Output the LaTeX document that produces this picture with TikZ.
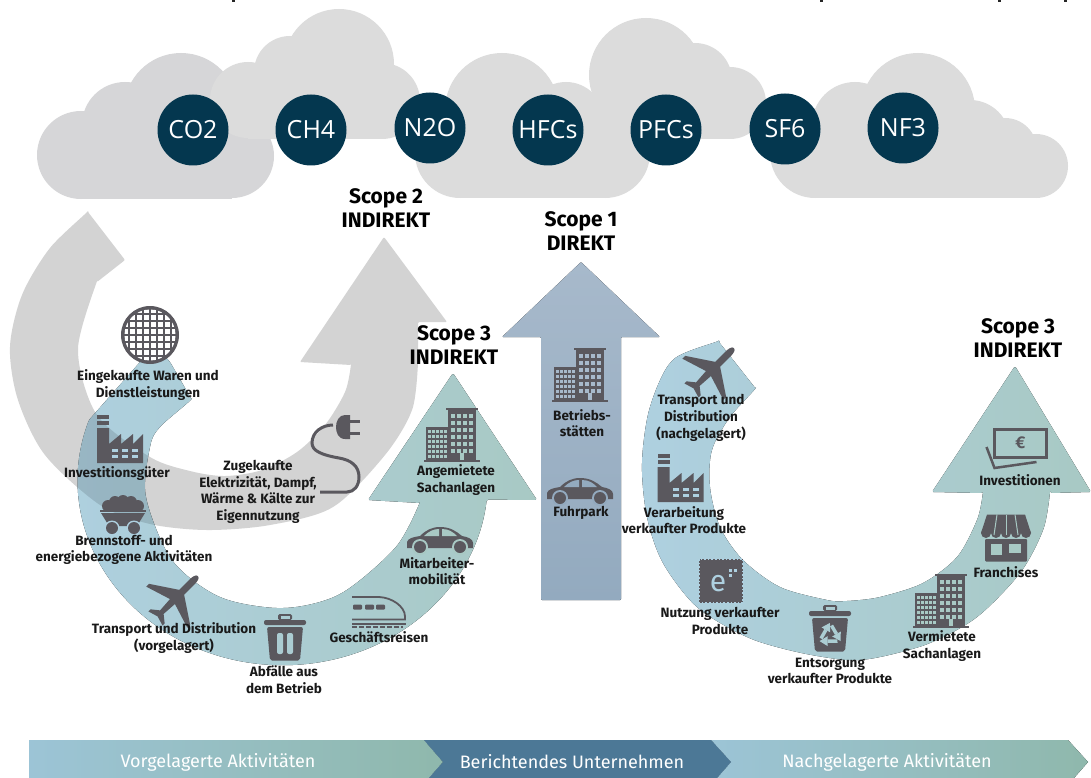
\documentclass[tikz,border=0pt]{standalone}
\usepackage{fontspec}
\setmainfont{Fira Sans}
\newfontfamily\gasfont{Open Sans}
\definecolor{cloudgrey}{HTML}{DCDCDC}
\definecolor{cloudgreyb}{HTML}{D6D6D8}
\definecolor{gasblue}{HTML}{04374F}
\definecolor{arcgrey}{HTML}{D3D3D3}
\definecolor{arcblue}{HTML}{AED0E0}
\definecolor{arcteal}{HTML}{A8C9C4}
\colorlet{arcmid}{arcblue!50!arcteal}
\definecolor{barblue}{HTML}{9CC4D6}
\definecolor{barteal}{HTML}{8FB8AC}
\definecolor{barmid}{HTML}{4C7896}
\definecolor{scopetop}{HTML}{A7B9CB}
\definecolor{scopebot}{HTML}{93AABF}
\definecolor{icondark}{HTML}{5A585E}
\newcommand{\greypath}{plot[smooth] coordinates {(88,212) (50,248) (22,295) (10,347) (18,400) (45,455) (100,505) (150,524) (207,530) (270,525) (333,507) (385,455) (412,410) (418,363)}
    -- (418,322) -- (447,322) -- (384,237) -- (300,362) -- plot[smooth] coordinates {(351,365) (345,392) (325,425) (297,452) (262,470) (225,476) (190,471) (150,457) (97,415) (78,350) (97,282)}
    -- (125,260) -- cycle}
\newcommand{\bluepath}{(155,345) -- (89,420) arc[start angle=199,end angle=6,x radius=205,y radius=185]
    -- (537,500) -- (453,373) -- (368,500) -- plot[smooth] coordinates {(420,503) (395,548) (340,594) (283,608) (220,597) (172,560) (146,497) (150,447) (160,427) (192,400)}
    -- (170,362) -- cycle}
\tikzset{
  gascircle/.style={circle,fill=gasblue,text=white,minimum size=71pt,inner sep=0pt,font=\gasfont\fontsize{25}{25}\selectfont},
  scopetext/.style={align=center,font=\bfseries\fontsize{21}{24}\selectfont},
  itemtext/.style={align=center,text=black!90,font=\bfseries\fontsize{13.5}{16.7}\selectfont},
  bartext/.style={text=white,font=\fontsize{18}{18}\selectfont},
  arcfill/.style={left color=arcblue,right color=arcteal,rounded corners=1.5pt},
  barfill/.style={left color=barblue,right color=barteal},
  iconhole/.style={fill=white},
  buildingicon/.pic={
    \fill[icondark] (-6,-27) rectangle (26,-25);
    \fill[icondark] (-4,-25) rectangle (24,25);
    \fill[icondark] (-26,-8) rectangle (-4,25);
    \fill[icondark] (-28,25) rectangle (28,27);
    \foreach \i in {0,...,3} \foreach \j in {0,...,5}
      \path[iconhole] ({-1+\i*6},{-21+\j*7}) rectangle +(4,4);
    \foreach \i in {0,...,4} \foreach \j in {0,...,5}
      \path[iconhole] ({-24+\i*4},{-5+\j*5}) rectangle +(2.6,3);
    \path[iconhole] (8,18) rectangle (12,25);
  },
  factoryicon/.pic={
    \fill[icondark] (-23,-24) rectangle (-11,-20);
    \fill[icondark] (-23,-18) rectangle (-11,-14);
    \fill[icondark] (-23,-11) -- (-11,-11) -- (-11,5) -- (1,-5) -- (1,5) -- (13,-5) -- (13,5) -- (23,-5) -- (23,24) -- (-23,24) -- cycle;
    \foreach \i in {-5,5,15} \foreach \j in {10,16}
      \path[iconhole] ({\i-3},\j) rectangle +(6,2.5);
  },
  caricon/.pic={
    \fill[icondark] (-33,8) -- (-33,2) .. controls (-32,-2) and (-26,-3) .. (-20,-4) .. controls (-14,-10) and (-8,-13) .. (0,-13) .. controls (10,-13) and (16,-9) .. (22,-4) .. controls (28,-3) and (33,-1) .. (33,3) -- (33,8) -- cycle;
    \path[iconhole] (-16,-4) .. controls (-11,-9) and (-6,-11) .. (-1,-11) -- (-1,-4) -- cycle;
    \path[iconhole] (2,-11) .. controls (9,-11) and (13,-8) .. (17,-4) -- (2,-4) -- cycle;
    \foreach \x in {-20,20}{
      \path[iconhole] (\x,7) circle (8);
      \fill[icondark] (\x,7) circle (6);
    }
  },
  planeicon/.pic={
    \fill[icondark] (0,-31) .. controls (3,-31) and (3.5,-26) .. (3.5,-22) -- (3.5,-8) -- (29,9) -- (29,13) -- (3.5,5) -- (2.5,20) -- (10,26) -- (10,29) -- (0,26) -- (-10,29) -- (-10,26) -- (-2.5,20) -- (-3.5,5) -- (-29,13) -- (-29,9) -- (-3.5,-8) -- (-3.5,-22) .. controls (-3.5,-26) and (-3,-31) .. (0,-31) -- cycle;
  },
  binbody/.pic={
    \fill[icondark,rounded corners=1.5] (-7,-17) -- (-7,-23) -- (7,-23) -- (7,-17) -- cycle;
    \path[iconhole] (-4.5,-21) rectangle (4.5,-18);
    \fill[icondark,rounded corners=2] (-21,-17) rectangle (21,-12);
    \fill[icondark,rounded corners=2] (-18,-10) -- (18,-10) -- (15,23.5) -- (-15,23.5) -- cycle;
  },
  trashicon/.pic={
    \pic {binbody};
    \path[iconhole,rounded corners=2] (-8,-4) rectangle (-2,17);
    \path[iconhole,rounded corners=2] (2,-4) rectangle (8,17);
  },
  recycleicon/.pic={
    \pic {binbody};
    \foreach \a in {0,120,240}{
      \begin{scope}[shift={(0,7)},rotate=\a]
        \draw[arcmid,line width=3.5] (1.5,-9.5) -- (6.5,-1);
        \path[iconhole] (10.8,-3.5) -- (2.2,1.5) -- (10.5,6) -- cycle;
      \end{scope}
    }
  },
  wafericon/.pic={
    \fill[icondark] (0,0) circle (29);
    \begin{scope}
      \clip (0,0) circle (25.5);
      \foreach \i in {-4,...,3} \foreach \j in {-4,...,3}
        \fill[white] ({\i*7+1},{\j*7+1}) rectangle +(5,5);
    \end{scope}
  },
  carticon/.pic={
    \foreach \x/\y/\r in {-15/-9/6,-8/-13/6,0/-14/6,8/-13/6,15/-9/6}
      \fill[icondark] (\x,\y) circle (\r);
    \fill[icondark] (-19,-10) rectangle (19,-5);
    \fill[icondark] (-23,-5) -- (23,-5) -- (23,-3) -- (-23,-3) -- cycle;
    \fill[icondark] (-22,-2) -- (22,-2) -- (14,11) -- (-14,11) -- cycle;
    \foreach \x in {-11,11}{
      \path[iconhole] (\x,13) circle (7.5);
      \fill[icondark] (\x,13) circle (6);
    }
  },
  plugicon/.pic={
    \draw[icondark,line width=3] (-3,-29) .. controls (-14,-29) and (-24,-22) .. (-24,-11) .. controls (-24,-3) and (-14,1) .. (3,4) .. controls (15,6) and (23,12) .. (23,23) .. controls (23,32) and (18,38) .. (11,38) -- (-16,38);
    \fill[icondark] (14,-39) -- (14,-15) -- (9,-15) .. controls (2,-15) and (0,-22) .. (0,-27) .. controls (0,-33) and (3,-39) .. (9,-39) -- cycle;
    \draw[icondark,line width=3] (14,-33) -- (24,-33);
    \draw[icondark,line width=3] (14,-21) -- (24,-21);
  },
  trainicon/.pic={
    \draw[icondark,line width=1.8] (-27,-14.5) -- (0,-14.5) .. controls (13,-14) and (26,-5) .. (26,5) -- (26,8) -- (-27,8);
    \foreach \x in {-26,-14,-3}
      \fill[icondark,rounded corners=1] (\x,-7) rectangle +(9,5);
    \fill[icondark] (-27,11) rectangle (27,13);
    \draw[icondark,line width=2,dash pattern=on 5pt off 2pt] (-27,15) -- (24,15);
  },
  storeicon/.pic={
    \fill[icondark] (-19,-23.5) -- (19,-23.5) -- (25,-5) -- (-25,-5) -- cycle;
    \foreach \x in {-20,-10,0,10,20}
      \fill[icondark] (\x,-5) circle (5);
    \draw[arcteal,line width=1] (-9,-23.5) -- (-12,-3);
    \draw[arcteal,line width=1] (0,-23.5) -- (0,-3);
    \draw[arcteal,line width=1] (9,-23.5) -- (12,-3);
    \fill[icondark,rounded corners=1] (-21,1) rectangle (21,23.5);
    \path[iconhole] (-15,6) rectangle (-4,17);
    \path[iconhole] (3,6) rectangle (15,15);
  },
  notesicon/.pic={
    \draw[icondark,line width=3] (-22,-20) rectangle (29.5,8);
    \draw[icondark,line width=2.5] (-30,-2) -- (-22,19) -- (20,13);
    \node[text=icondark,font=\bfseries\fontsize{17}{17}\selectfont] (euro) at (4,-6) {€};
  },
  stampicon/.pic={
    \fill[icondark] (-22,-22) rectangle (22,22);
    \draw[arcblue,line width=1.5,dash pattern=on 1.6pt off 2pt] (-22,-22) rectangle (22,22);
    \node[text=arcblue,font=\rmfamily\fontsize{30}{30}\selectfont] (echar) at (-3,3) {e};
    \foreach \x/\y in {8/-12,13/-12,8/-7} \fill[arcblue] (\x,\y) rectangle +(2.5,2.5);
  }
}
\begin{document}
\begin{tikzpicture}[x=1pt,y=-1pt]
  \useasboundingbox (0,0) rectangle (1091,778);
  %rest der titelzeile
  \foreach \x in {232,820,998,1064}
    \fill[black!85] (\x,0) rectangle +(3,2.5);

  %wolken
  \foreach \x/\y/\r in {81/155/44,125/125/43,181/110/57,232/156/42}
    \fill[cloudgreyb] (\x,\y) circle (\r);
  \fill[cloudgreyb] (81,120) rectangle (232,199);
  \foreach \x/\y/\r in {248/100/38,290/72/36,339/64/55,382/101/38}
    \fill[cloudgrey] (\x,\y) circle (\r);
  \fill[cloudgrey] (248,80) rectangle (382,139);
  \foreach \x/\y/\r in {460/153/45,502/110/57,566/120/38,605/153/45,646/75/57,695/80/37,730/103/36}
    \fill[cloudgrey] (\x,\y) circle (\r);
  \fill[cloudgrey] (460,110) rectangle (605,198);
  \fill[cloudgrey] (620,90) rectangle (730,139);
  \foreach \x/\y/\r in {815/153/45,855/125/43,918/110/57,970/140/40,1005/150/32,1036/166/32}
    \fill[cloudgrey] (\x,\y) circle (\r);
  \fill[cloudgrey] (815,135) rectangle (1005,198);
  \fill[cloudgrey] (1005,166) rectangle (1036,198);

  %gase
  \node[gascircle] (co2) at (193,130) {CO2};
  \node[gascircle] (ch4) at (311,130) {CH4};
  \node[gascircle] (n2o) at (430,128) {N2O};
  \node[gascircle] (hfcs) at (548,130) {HFCs};
  \node[gascircle] (pfcs) at (666,130) {PFCs};
  \node[gascircle] (sf6) at (785,129) {SF6};
  \node[gascircle] (nf3) at (903,128) {NF3};

  %scope 2 pfeil
  \fill[arcgrey,rounded corners=1pt] \greypath;

  %scope 3 vorgelagert
  \fill[arcfill] \bluepath;
  \begin{scope}
    \clip \greypath;
    \fill[black,opacity=.12] \bluepath;
  \end{scope}

  %scope 3 nachgelagert
  \fill[arcfill] plot[smooth] coordinates {(719,342) (673,360) (650,407) (642,463) (647,517) (663,563) (697,607) (747,637) (797,652) (847,660) (880,657) (930,643) (977,617) (1020,573) (1043,530) (1050,493)}
    -- (1091,492) -- (1015,366) -- (932,492) -- plot[smooth] coordinates {(983,493) (977,520) (957,557) (923,583) (880,597) (847,601) (827,600) (780,587) (743,560) (720,527) (710,487) (712,450) (730,417) (756,389)}
    -- cycle;

  %scope 1 pfeil
  \fill[top color=scopetop,bottom color=scopebot,rounded corners=1pt] (581,262) -- (660,337) -- (621,337) -- (621,600) -- (541,600) -- (541,337) -- (502,337) -- cycle;

  %balken unten
  \fill[barfill] (29,740) -- (424,740) -- (443,762) -- (429,778) -- (29,778) -- cycle;
  \fill[barfill] (711,740) -- (1068,740) -- (1088,762) -- (1074,778) -- (717,778) -- (731,762) -- cycle;
  \fill[barmid] (424,740) -- (711,740) -- (731,762) -- (717,778) -- (429,778) -- (443,762) -- cycle;
  \node[bartext] (vorgelagert) at (218,762) {Vorgelagerte Aktivitäten};
  \node[bartext] (berichtend) at (572,762) {Berichtendes Unternehmen};
  \node[bartext] (nachgelagert) at (887,762) {Nachgelagerte Aktivitäten};

  %ueberschriften
  \node[scopetext] (scopezwei) at (386,208) {Scope 2\\INDIREKT};
  \node[scopetext] (scopeeins) at (581,231) {Scope 1\\DIREKT};
  \node[scopetext] (scopedreil) at (454,345) {Scope 3\\INDIREKT};
  \node[scopetext] (scopedreir) at (1018,338) {Scope 3\\INDIREKT};

  %icons links
  \pic at (150,335) {wafericon};
  \pic[iconhole/.style={fill=arcblue}] at (120,439) {factoryicon};
  \pic[iconhole/.style={fill=arcblue}] at (123,515) {carticon};
  \pic[rotate=-45] at (176,598) {planeicon};
  \pic[iconhole/.style={fill=arcmid}] at (285,637) {trashicon};
  \pic at (379,611.5) {trainicon};
  \pic[iconhole/.style={fill=arcteal}] at (440,540) {caricon};
  \pic[iconhole/.style={fill=arcteal}] at (452,435) {buildingicon};
  \pic at (336,454) {plugicon};

  %icons mitte und rechts
  \pic[iconhole/.style={fill=scopetop}] at (580,375) {buildingicon};
  \pic[iconhole/.style={fill=scopebot}] at (580,491) {caricon};
  \pic[rotate=-45] at (712,370) {planeicon};
  \pic[iconhole/.style={fill=arcblue}] at (680.5,478) {factoryicon};
  \pic at (721,581) {stampicon};
  \pic[iconhole/.style={fill=arcmid}] at (830,628) {recycleicon};
  \pic[iconhole/.style={fill=arcteal}] at (941,601) {buildingicon};
  \pic[iconhole/.style={fill=arcteal}] at (1006,538) {storeicon};
  \pic at (1016.5,449) {notesicon};

  %beschriftung links
  \node[itemtext] (waren) at (148,385) {Eingekaufte Waren und\\Dienstleistungen};
  \node[itemtext] (investgueter) at (117,474) {Investitionsgüter};
  \node[itemtext] (brennstoff) at (124,550) {Brennstoff- und\\energiebezogene Aktivitäten};
  \node[itemtext] (transportv) at (174,638) {Transport und Distribution\\(vorgelagert)};
  \node[itemtext] (abfaelle) at (284,680) {Abfälle aus\\dem Betrieb};
  \node[itemtext] (reisen) at (379,637) {Geschäftsreisen};
  \node[itemtext] (mobil) at (437,571) {Mitarbeiter-\\mobilität};
  \node[itemtext] (angemietet) at (456,480) {Angemietete\\Sachanlagen};
  \node[itemtext] (elektro) at (258,492) {Zugekaufte\\Elektrizität, Dampf,\\Wärme \& Kälte zur\\Eigennutzung};

  %beschriftung mitte und rechts
  \node[itemtext] (betrieb) at (582,423) {Betriebs-\\stätten};
  \node[itemtext] (fuhrpark) at (581,513) {Fuhrpark};
  \node[itemtext] (transportn) at (701,418) {Transport und\\Distribution\\(nachgelagert)};
  \node[itemtext] (verarbeitung) at (684,520) {Verarbeitung\\verkaufter Produkte};
  \node[itemtext] (nutzung) at (720,621) {Nutzung verkaufter\\Produkte};
  \node[itemtext] (entsorgung) at (830,671) {Entsorgung\\verkaufter Produkte};
  \node[itemtext] (vermietet) at (942,646) {Vermietete\\Sachanlagen};
  \node[itemtext] (franchises) at (1006,572) {Franchises};
  \node[itemtext] (investition) at (1020,480) {Investitionen};
\end{tikzpicture}
\end{document}
